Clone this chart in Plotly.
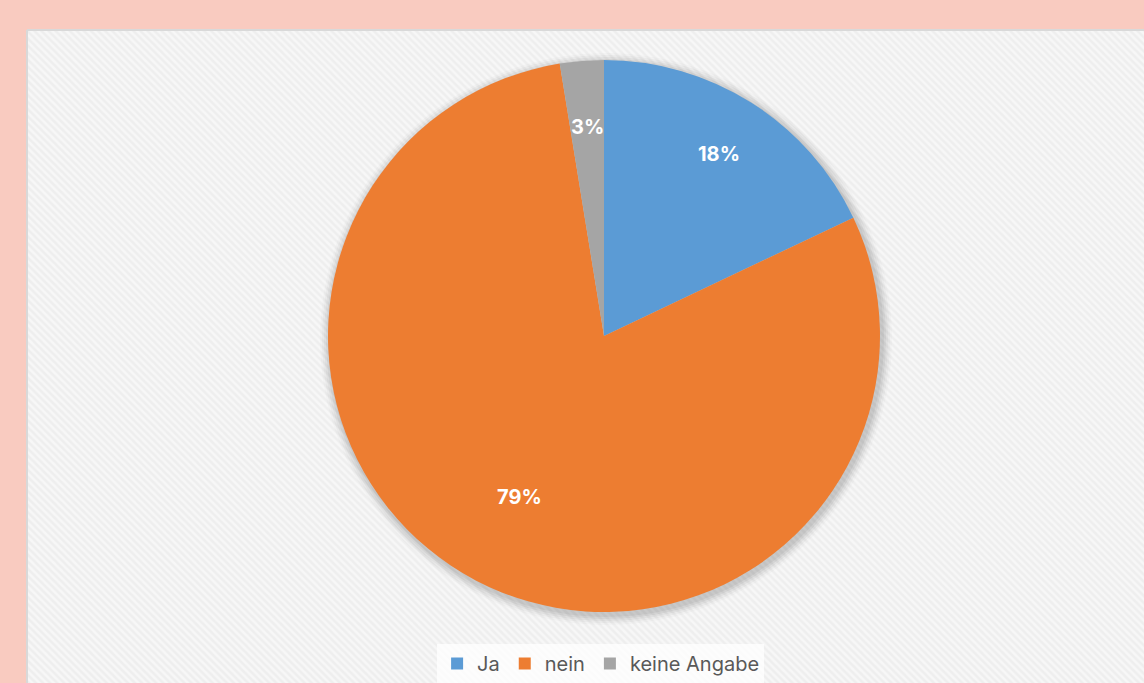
import numpy as np
import plotly.graph_objects as go

labels = ["Ja", "nein", "keine Angabe"]
values = [7, 31, 1]
colors = ["#5b9bd5", "#ed7d31", "#a5a5a5"]
label_radius = [0.78, 0.66, 0.76]   # relative radius of the in-slice labels

W, H = 1144, 683
CX, CY, R = 604, 336, 276

fig = go.Figure()

# panel background with diagonal hatch
fig.add_trace(go.Scatter(
    x=[27, 1150, 1150, 27, 27], y=[30, 30, 690, 690, 30],
    mode="lines", fill="toself",
    line=dict(color="#d9d9d9", width=2),
    fillcolor="#efefef",
    fillpattern=dict(shape="\\", bgcolor="#eeeeee", fgcolor="#ffffff", size=5, solidity=0.5),
    hoverinfo="skip", showlegend=False,
))

# soft shadow behind pie
t = np.linspace(0, 2 * np.pi, 200)
for i, a in enumerate([0.02, 0.03, 0.04, 0.05, 0.05]):
    r = R + 10 - i * 2
    fig.add_trace(go.Scatter(
        x=CX + 2 + r * np.cos(t), y=CY + 3 + r * np.sin(t),
        mode="lines", fill="toself", line=dict(width=0),
        fillcolor=f"rgba(0,0,0,{a})", hoverinfo="skip", showlegend=False,
    ))

fig.add_trace(go.Pie(
    labels=labels, values=values, sort=False, direction="clockwise", rotation=0,
    marker=dict(colors=colors, line=dict(width=0)),
    textinfo="none",
    domain=dict(x=[(CX - R) / W, (CX + R) / W], y=[(H - CY - R) / H, (H - CY + R) / H]),
    hoverinfo="label+percent",
))

# percentage labels at slice mid-angles
total = sum(values)
cum = 0
for v, lr in zip(values, label_radius):
    mid = (cum + v / 2) / total * 2 * np.pi
    cum += v
    fig.add_annotation(
        x=CX + lr * R * np.sin(mid), y=CY - lr * R * np.cos(mid),
        xref="x", yref="y", text=f"<b>{round(v / total * 100)}%</b>",
        showarrow=False, font=dict(color="white", size=20, family="Inter"),
    )

fig.update_layout(
    width=W, height=H,
    margin=dict(l=0, r=0, t=0, b=0),
    paper_bgcolor="#f9cbc0",
    plot_bgcolor="rgba(0,0,0,0)",
    xaxis=dict(range=[0, W], visible=False, domain=[0, 1], fixedrange=True),
    yaxis=dict(range=[H, 0], visible=False, domain=[0, 1], fixedrange=True),
    font=dict(family="Inter", color="#595959"),
    legend=dict(orientation="h", x=0.525, xanchor="center", y=0.0, yanchor="bottom",
                bgcolor="rgba(255,255,255,0.75)", font=dict(size=20, color="#595959"),
                itemwidth=30, traceorder="normal"),
    showlegend=True,
)

fig.write_html("out.html", config={"displayModeBar": False},
               post_script="document.body.style.margin='0';")
